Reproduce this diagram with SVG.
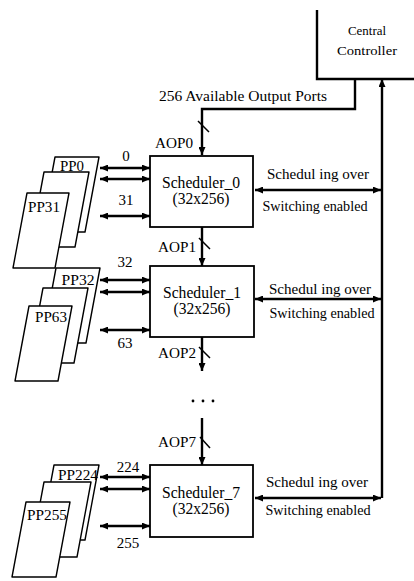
<svg xmlns="http://www.w3.org/2000/svg" width="414" height="581" viewBox="0 0 414 581" font-family="'Liberation Serif', 'DejaVu Serif', serif">
<style>
text{font-family:"Liberation Serif","DejaVu Serif",serif;fill:#000}
.box{fill:#fff;stroke:#000;stroke-width:1.8}
.page{fill:#fff;stroke:#000;stroke-width:1.4;stroke-linejoin:round}
.w{fill:none;stroke:#000;stroke-width:2.4}
.thin{fill:none;stroke:#000;stroke-width:1.5}
.lbl{font-size:15px;text-anchor:middle}
.pp{font-size:15px;text-anchor:middle}
.sch{font-size:16px;text-anchor:middle}
.sm{font-size:13px;text-anchor:middle}
</style>
<defs>
<marker id="ah" viewBox="0 0 8 7" refX="8" refY="3.5" markerWidth="8" markerHeight="7" markerUnits="userSpaceOnUse" orient="auto-start-reverse">
<path d="M0,0 L8,3.5 L0,7 z" fill="#000"/>
</marker>
</defs>

<g id="controller">
<path class="w" d="M317,10 V79 H414"/>
<text class="sm" x="367" y="35" textLength="38" lengthAdjust="spacingAndGlyphs">Central</text>
<text class="sm" x="367" y="55" textLength="60" lengthAdjust="spacingAndGlyphs">Controller</text>
</g>

<g id="connectors">
<path class="w" d="M355,79 V109 H202 V155" marker-end="url(#ah)"/>
<text x="159" y="101" style="font-size:15px" textLength="168" lengthAdjust="spacingAndGlyphs">256 Available Output Ports</text>
<line class="thin" x1="198" y1="121" x2="209" y2="132"/>
<line class="w" x1="202" y1="227" x2="202" y2="266" marker-end="url(#ah)"/>
<line class="thin" x1="199" y1="238" x2="210" y2="249"/>
<line class="w" x1="202" y1="337" x2="202" y2="371" marker-end="url(#ah)"/>
<line class="thin" x1="199" y1="347" x2="210" y2="358"/>
<line class="w" x1="202" y1="418" x2="202" y2="465" marker-end="url(#ah)"/>
<line class="thin" x1="200" y1="437" x2="210" y2="448"/>
<path class="w" d="M382,498 V79" marker-end="url(#ah)"/>
<line class="w" x1="255" y1="190" x2="381" y2="190" marker-start="url(#ah)" marker-end="url(#ah)"/>
<line class="w" x1="255" y1="299" x2="381" y2="299" marker-start="url(#ah)" marker-end="url(#ah)"/>
<line class="w" x1="255" y1="498" x2="381" y2="498" marker-start="url(#ah)" marker-end="url(#ah)"/>
<line class="w" x1="100" y1="168" x2="150" y2="168" marker-start="url(#ah)" marker-end="url(#ah)"/>
<line class="w" x1="100" y1="179" x2="150" y2="179" marker-start="url(#ah)" marker-end="url(#ah)"/>
<line class="w" x1="100" y1="216" x2="150" y2="216" marker-start="url(#ah)" marker-end="url(#ah)"/>
<line class="w" x1="100" y1="280" x2="150" y2="280" marker-start="url(#ah)" marker-end="url(#ah)"/>
<line class="w" x1="100" y1="292" x2="150" y2="292" marker-start="url(#ah)" marker-end="url(#ah)"/>
<line class="w" x1="100" y1="330" x2="150" y2="330" marker-start="url(#ah)" marker-end="url(#ah)"/>
<line class="w" x1="100" y1="477" x2="150" y2="477" marker-start="url(#ah)" marker-end="url(#ah)"/>
<line class="w" x1="100" y1="489" x2="150" y2="489" marker-start="url(#ah)" marker-end="url(#ah)"/>
<line class="w" x1="100" y1="526" x2="150" y2="526" marker-start="url(#ah)" marker-end="url(#ah)"/>
<text class="lbl" x="126" y="161">0</text>
<text class="lbl" x="126" y="205">31</text>
<text class="lbl" x="125" y="267">32</text>
<text class="lbl" x="125" y="348">63</text>
<text class="lbl" x="128" y="472">224</text>
<text class="lbl" x="128" y="548">255</text>
<text class="lbl" x="174" y="148" textLength="38" lengthAdjust="spacingAndGlyphs">AOP0</text>
<text class="lbl" x="177" y="252" textLength="38" lengthAdjust="spacingAndGlyphs">AOP1</text>
<text class="lbl" x="177" y="358" textLength="38" lengthAdjust="spacingAndGlyphs">AOP2</text>
<text class="lbl" x="177" y="447" textLength="38" lengthAdjust="spacingAndGlyphs">AOP7</text>
<text class="lbl" x="318" y="179" textLength="102" lengthAdjust="spacingAndGlyphs">Schedul ing over</text>
<text class="lbl" x="315" y="211" textLength="105" lengthAdjust="spacingAndGlyphs">Switching enabled</text>
<text class="lbl" x="320" y="294" textLength="102" lengthAdjust="spacingAndGlyphs">Schedul ing over</text>
<text class="lbl" x="322" y="318" textLength="105" lengthAdjust="spacingAndGlyphs">Switching enabled</text>
<text class="lbl" x="317" y="487" textLength="102" lengthAdjust="spacingAndGlyphs">Schedul ing over</text>
<text class="lbl" x="318" y="515" textLength="105" lengthAdjust="spacingAndGlyphs">Switching enabled</text>
<circle cx="193" cy="401" r="1.4"/>
<circle cx="203" cy="401" r="1.4"/>
<circle cx="213" cy="401" r="1.4"/>
</g>

<g id="scheduler0">
<rect class="box" x="150" y="156" width="103" height="71"/>
<text class="sch" x="201" y="188" textLength="78" lengthAdjust="spacingAndGlyphs">Scheduler_0</text>
<text class="sch" x="201" y="204" textLength="57" lengthAdjust="spacingAndGlyphs">(32x256)</text>
</g>
<g id="scheduler1">
<rect class="box" x="150" y="266" width="104" height="71"/>
<text class="sch" x="202" y="298" textLength="78" lengthAdjust="spacingAndGlyphs">Scheduler_1</text>
<text class="sch" x="202" y="314" textLength="57" lengthAdjust="spacingAndGlyphs">(32x256)</text>
</g>
<g id="scheduler7">
<rect class="box" x="150" y="465" width="103" height="72"/>
<text class="sch" x="201" y="498" textLength="78" lengthAdjust="spacingAndGlyphs">Scheduler_7</text>
<text class="sch" x="201" y="514" textLength="57" lengthAdjust="spacingAndGlyphs">(32x256)</text>
</g>

<g id="pp0-31">
<polygon class="page" points="55,157 99,157 85,232 41,232"/>
<text class="pp" x="72" y="171" textLength="24" lengthAdjust="spacingAndGlyphs">PP0</text>
<polygon class="page" points="44,172 89,172 75,247 30,247"/>
<polygon class="page" points="27,193 69,193 55,268 13,268"/>
<text class="pp" x="44" y="212" textLength="32" lengthAdjust="spacingAndGlyphs">PP31</text>
</g>
<g id="pp32-63">
<polygon class="page" points="56,268 100,268 86,343 42,343"/>
<text class="pp" x="78" y="285" textLength="33" lengthAdjust="spacingAndGlyphs">PP32</text>
<polygon class="page" points="43,288 88,288 74,363 29,363"/>
<polygon class="page" points="29,306 72,306 58,381 15,381"/>
<text class="pp" x="51" y="322" textLength="32" lengthAdjust="spacingAndGlyphs">PP63</text>
</g>
<g id="pp224-255">
<polygon class="page" points="54,465 99,465 85,540 40,540"/>
<text class="pp" x="78" y="480" textLength="40" lengthAdjust="spacingAndGlyphs">PP224</text>
<polygon class="page" points="44,482 91,482 77,557 30,557"/>
<polygon class="page" points="26,502 70,502 56,577 12,577"/>
<text class="pp" x="47" y="520" textLength="40" lengthAdjust="spacingAndGlyphs">PP255</text>
</g>
</svg>
